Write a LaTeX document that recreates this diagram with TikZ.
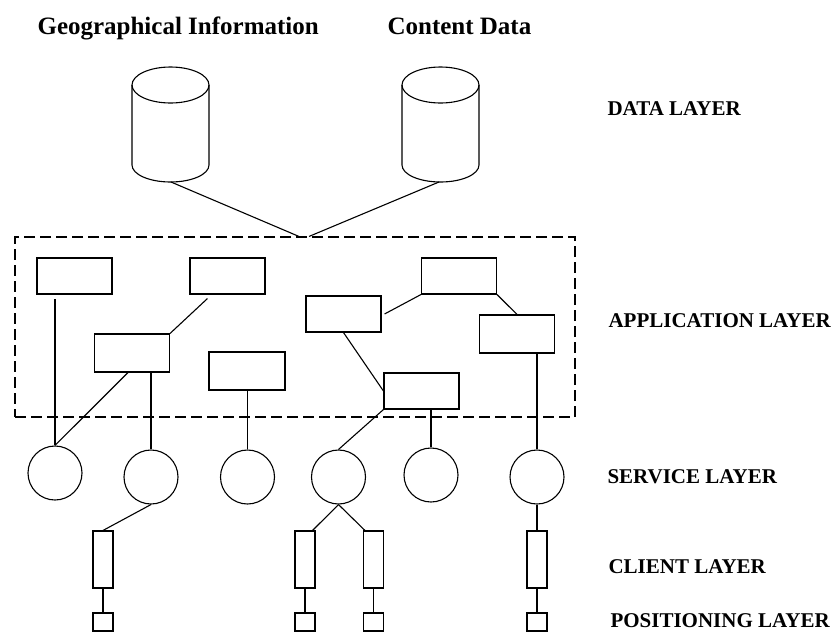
\documentclass[tikz,border=0pt]{standalone}
\usepackage{fontspec}
\setmainfont{Liberation Serif}
\begin{document}
\begin{tikzpicture}[x=1pt,y=-1pt,line width=1.1pt,
  appbox/.style={draw,rectangle,inner sep=0pt,minimum width=75pt,minimum height=36pt},
  svc/.style={draw,circle,inner sep=0pt,minimum size=54pt},
  client/.style={draw,rectangle,inner sep=0pt,minimum width=20pt,minimum height=57pt},
  posbox/.style={draw,rectangle,inner sep=0pt,minimum width=20pt,minimum height=18pt},
  layer/.style={anchor=base west,inner sep=0pt,font=\fontsize{21}{21}\selectfont\bfseries},
  title/.style={anchor=base west,inner sep=0pt,font=\fontsize{25}{25}\selectfont\bfseries}]
\useasboundingbox[fill=white] (0,0) rectangle (836,633);

% titles
\node[title] (tgeo) at (37,34) {Geographical Information};
\node[title] (tcont) at (387,34) {Content Data};

% data stores
\draw (132,85) -- (132,165) arc[start angle=180,end angle=0,x radius=38.5,y radius=17] -- (209,85);
\draw (170.5,85) ellipse[x radius=38.5,y radius=18];
\draw (402,85) -- (402,165) arc[start angle=180,end angle=0,x radius=38.5,y radius=17] -- (479,85);
\draw (440.5,85) ellipse[x radius=38.5,y radius=18];
\coordinate (geo) at (171,182);
\coordinate (cont) at (439,182);

% application layer frame
\node[draw,dash pattern=on 11pt off 5pt,inner sep=0pt,minimum width=560pt,minimum height=180pt] (app) at (295,327) {};
\draw (geo) -- ([xshift=4pt]app.north);
\draw (cont) -- ([xshift=14pt]app.north);

% application components
\node[appbox] (A) at (74.5,276) {};
\node[appbox] (B) at (227.5,276) {};
\node[appbox,minimum height=38pt] (C) at (132,353) {};
\node[appbox,minimum width=76pt,minimum height=38pt] (D) at (247,371) {};
\node[appbox] (E) at (343.5,314) {};
\node[appbox] (F) at (459,276) {};
\node[appbox,minimum height=38pt] (G) at (517,334) {};
\node[appbox] (H) at (421.5,391) {};

% services
\node[svc] (s1) at (55,473) {};
\node[svc] (s2) at (151,477) {};
\node[svc] (s3) at (247.5,477) {};
\node[svc] (s4) at (338.5,477) {};
\node[svc] (s5) at (431,475) {};
\node[svc] (s6) at (537,477) {};

% clients
\node[client] (k1) at (103,559.5) {};
\node[client] (k2) at (305,559.5) {};
\node[client] (k3) at (373.5,559.5) {};
\node[client] (k4) at (537,559.5) {};

% positioning
\node[posbox] (p1) at (103,622) {};
\node[posbox] (p2) at (305,622) {};
\node[posbox] (p3) at (373.5,622) {};
\node[posbox] (p4) at (537,622) {};

% application links
\draw (s1.north) -- ([yshift=-4pt]s1.north |- A.south);
\draw ([xshift=18pt,yshift=-4pt]B.south west) -- (C.north east);
\draw ([xshift=34pt]C.south west) -- (s1.north);
\draw (s2.north) -- (s2.north |- C.south);
\draw (s3.north) -- (s3.north |- D.south);
\draw ([xshift=3pt]E.east) -- (F.south west);
\draw (F.south east) -- (G.north);
\draw (E.south) -- (H.west);
\draw (H.south west) -- (s4.north);
\draw (s5.north) -- (s5.north |- H.south);
\draw (s6.north) -- (s6.north |- G.south);

% service to client links
\draw (s2.south) -- (k1.north);
\draw (s4.south) -- ([xshift=-3pt]k2.north east);
\draw (s4.south) -- ([xshift=2pt]k3.north west);
\draw (s6.south) -- (k4.north);

% client to positioning links
\draw (k1.south) -- (p1.north);
\draw (k2.south) -- (p2.north);
\draw (k3.south) -- (p3.north);
\draw (k4.south) -- (p4.north);

% layer labels
\node[layer] (ldata) at (607,115) {DATA LAYER};
\node[layer] (lapp) at (608,327) {APPLICATION LAYER};
\node[layer] (lsvc) at (607,483) {SERVICE LAYER};
\node[layer] (lcli) at (608,573) {CLIENT LAYER};
\node[layer] (lpos) at (610,627) {POSITIONING LAYER};
\end{tikzpicture}
\end{document}
